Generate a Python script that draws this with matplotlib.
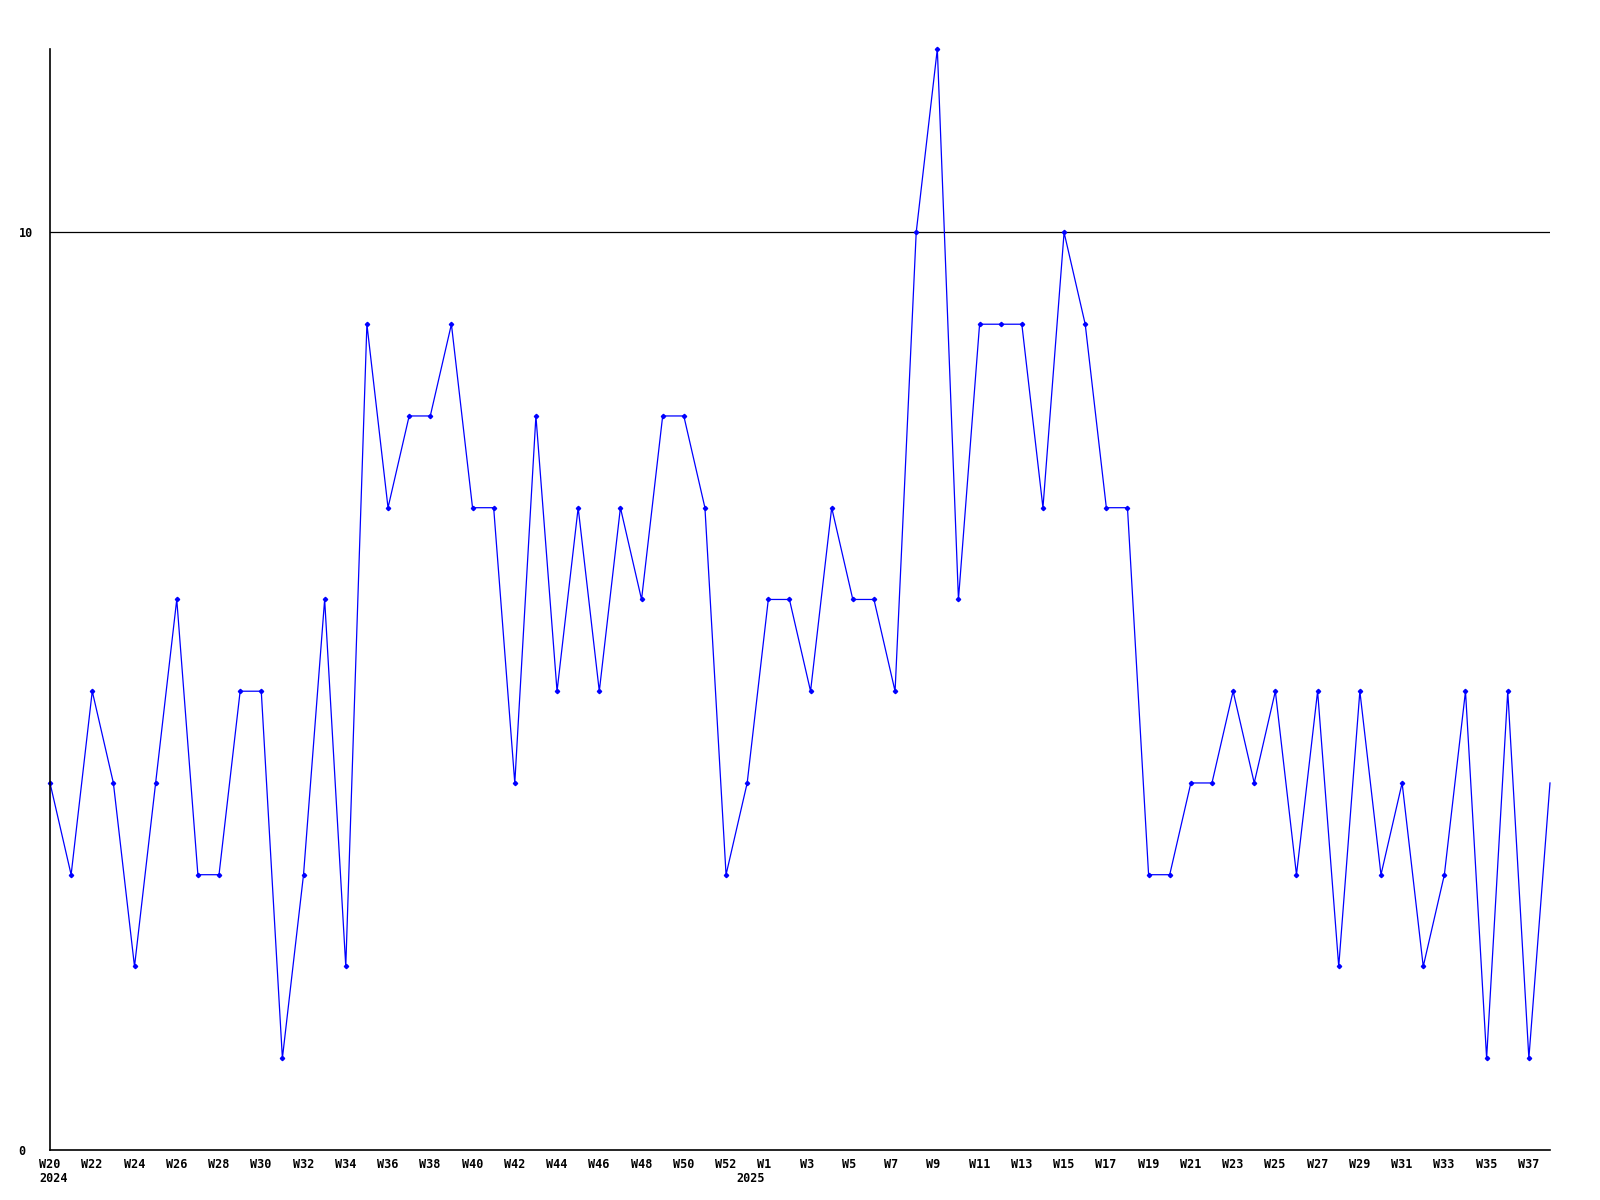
import matplotlib
matplotlib.use("Agg")
import matplotlib.pyplot as plt
import matplotlib.transforms as mtransforms

# weekly counts, 2024-W20 .. 2025-W38 (one extra week at the year change)
values = [4, 3, 5, 4, 2, 4, 6, 3, 3, 5, 5, 1, 3, 6, 2, 9, 7, 8, 8, 9,
          7, 7, 4, 8, 5, 7, 5, 7, 6, 8, 8, 7, 3, 4, 6, 6, 5, 7, 6, 6,
          5, 10, 12, 6, 9, 9, 9, 7, 10, 9, 7, 7, 3, 3, 4, 4, 5, 4, 5, 3,
          5, 2, 5, 3, 4, 2, 3, 5, 1, 5, 1, 4]
weeks_2024 = list(range(20, 53))
weeks_2025 = list(range(1, 39))
year_labels = {0: "2024", 33: "2025"}
y_ticks = [0, 10]

x = list(range(len(values)))
tick_pos = []
tick_lab = []
for i, w in enumerate(weeks_2024):
    if w % 2 == 0:
        tick_pos.append(i)
        tick_lab.append(f"W{w}")
for j, w in enumerate(weeks_2025):
    if w % 2 == 1:
        tick_pos.append(len(weeks_2024) + 1 + j)
        tick_lab.append(f"W{w}")

plt.rcParams['font.family'] = ['DejaVu Sans Mono']

fig = plt.figure(figsize=(16, 12), dpi=100)
ax = fig.add_axes([0.03125, 0.0417, 0.9375, 0.9175])

ax.plot(x, values, color='#0000ff', linewidth=0.9, marker='D', markersize=2.2,
        markevery=list(range(len(values) - 1)), clip_on=False)
ax.axhline(10, color='black', linewidth=0.9, zorder=0)

ax.set_xlim(0, len(values) - 1)
ax.set_ylim(0, 12)

for s in ['top', 'right']:
    ax.spines[s].set_visible(False)
for s in ['left', 'bottom']:
    ax.spines[s].set_linewidth(1.2)
    ax.spines[s].set_color('black')

ax.set_yticks(y_ticks)
ax.set_yticklabels([str(v) for v in y_ticks], fontsize=8.5, fontweight='bold', ha='left')
ax.tick_params(axis='y', length=0, pad=0)
yoff = mtransforms.ScaledTranslation(-31.5 / 100, 0, fig.dpi_scale_trans)
for lbl in ax.get_yticklabels():
    lbl.set_transform(lbl.get_transform() + yoff)

ax.set_xticks(tick_pos)
ax.set_xticklabels(tick_lab, fontsize=8.5, fontweight='bold', ha='left')
ax.tick_params(axis='x', length=0, pad=6)
offset = mtransforms.ScaledTranslation(-11 / 100, 0, fig.dpi_scale_trans)
for lbl in ax.get_xticklabels():
    lbl.set_transform(lbl.get_transform() + offset)

trans = mtransforms.blended_transform_factory(ax.transData, ax.transAxes) + \
    mtransforms.ScaledTranslation(-11 / 100, -22 / 100, fig.dpi_scale_trans)
for pos, yr in year_labels.items():
    ax.text(pos, 0, yr, transform=trans, fontsize=8.5, fontweight='bold',
            ha='left', va='top')

fig.savefig("out.png", dpi=100)
